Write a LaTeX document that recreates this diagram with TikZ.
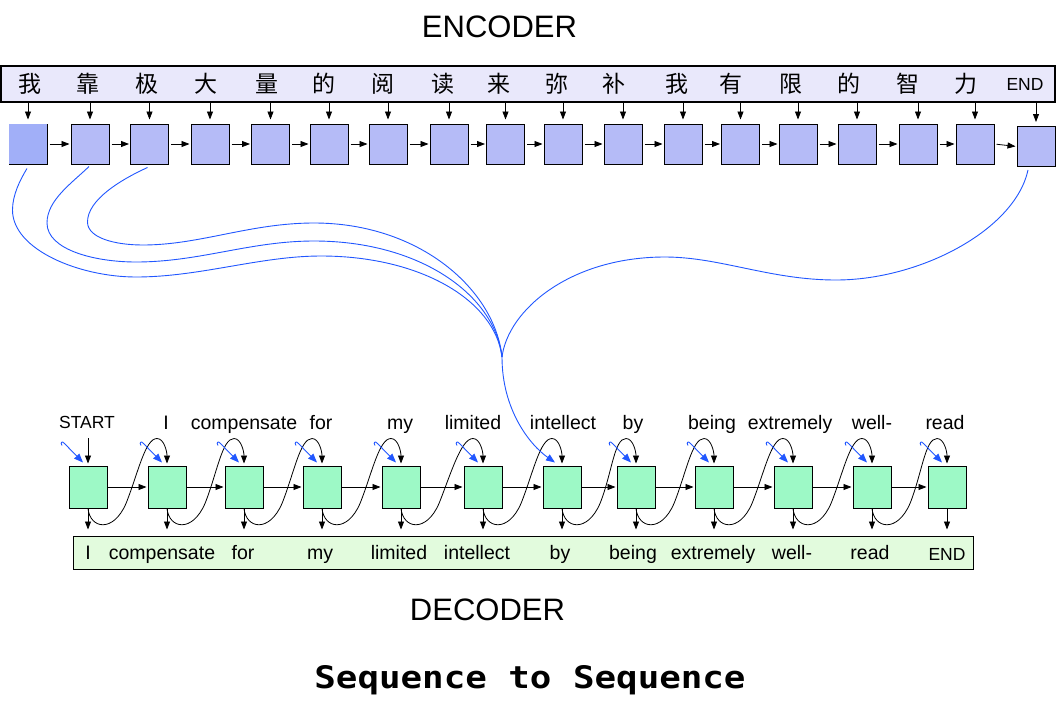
\documentclass[tikz,border=0pt]{standalone}
\usepackage{fontspec}
\setmainfont{Liberation Sans}
\newfontfamily\cjk{Noto Sans CJK SC}
\newfontfamily\titlefont{DejaVu Sans Mono}
\usetikzlibrary{arrows.meta,calc}
\definecolor{topfill}{HTML}{E9E8FB}
\definecolor{encfill}{HTML}{B5BBF7}
\definecolor{encfirst}{HTML}{A1AFF8}
\definecolor{decfill}{HTML}{9DF9C6}
\definecolor{botfill}{HTML}{E2FBDD}
\definecolor{myblue}{HTML}{2157FF}
\tikzset{
  enccell/.style={draw=black, line width=1pt, fill=encfill, minimum width=38pt, minimum height=40pt, inner sep=0pt},
  deccell/.style={draw=black, line width=1pt, fill=decfill, minimum width=38pt, minimum height=42pt, inner sep=0pt},
  arr/.style={-{Triangle[length=8pt,width=6pt]}, line width=0.8pt, draw=black},
  loopline/.style={-{Triangle[length=8pt,width=6pt]}, line width=0.8pt, draw=black},
  bluestub/.style={-{Triangle[length=9pt,width=7pt]}, line width=0.9pt, draw=myblue},
  blueline/.style={line width=0.9pt, draw=myblue},
  lab/.style={font=\fontsize{19.5}{20}\selectfont, anchor=base, inner sep=0pt},
  smalllab/.style={font=\fontsize{17.5}{18}\selectfont, anchor=base, inner sep=0pt},
  cjkchar/.style={font=\cjk\fontsize{23}{23}\selectfont, anchor=base, inner sep=0pt},
  heading/.style={font=\fontsize{31}{31}\selectfont, anchor=base, inner sep=0pt}
}
\begin{document}
\begin{tikzpicture}[x=1pt,y=-1pt]
\fill[white] (0,0) rectangle (1059,723);
\useasboundingbox (0,0) rectangle (1059,723);

% headings
\node[heading] (enchead) at (499.5,37) {ENCODER};
\node[heading] (dechead) at (487.5,620) {DECODER};
\node[anchor=base, inner sep=0pt] (title) at (530,688) {\scalebox{1.155}[1]{\titlefont\bfseries\fontsize{31}{31}\selectfont Sequence to Sequence}};

% encoder input box
\node[draw=black, line width=1.1pt, fill=topfill, minimum width=1054pt, minimum height=36pt, inner sep=0pt] (enctop) at (528,84) {};
\foreach \i/\x/\t in {1/30/我,2/88/靠,3/147/极,4/206/大,5/267/量,6/324/的,7/383/阅,8/443/读,9/499/来,10/557/弥,11/614/补,12/677/我,13/731/有,14/791/限,15/849/的,16/908/智,17/966/力}
  \node[cjkchar] (c\i) at (\x,92.5) {\t};
\node[smalllab] (c18) at (1025,90) {END};

% encoder cells
\foreach \i/\x in {1/28,2/90,3/149.5,4/210,5/270.5,6/329,7/388,8/449,9/505.5,10/563,11/623,12/683,13/740.5,14/798,15/857,16/918,17/975}
  \node[enccell] (e\i) at (\x,144) {};
\fill[encfirst] ($(e1.south west)+(0.5,-0.5)$) rectangle ($(e1.north east)+(-0.5,0.5)$);
\node[enccell] (e18) at (1036,146.5) {};

\foreach \i in {1,...,18}
  \draw[arr, shorten >=4pt] (e\i.north |- enctop.south) -- (e\i.north);
\foreach \i/\j in {1/2,2/3,3/4,4/5,5/6,6/7,7/8,8/9,9/10,10/11,11/12,12/13,13/14,14/15,15/16,16/17,17/18}
  \draw[arr, shorten <=2pt, shorten >=1pt] (e\i.east) -- (e\j.west);

% decoder cells
\foreach \i/\x in {1/88,2/167,3/244,4/322,5/401,6/483,7/562,8/636,9/714,10/793,11/872,12/947}
  \node[deccell] (d\i) at (\x,487) {};

% decoder top labels
\node[smalllab] (t1) at (87,428) {START};
\foreach \i/\x/\t in {2/166/I,3/244/compensate,4/321/for,5/400/my,6/473/limited,7/563/intellect,8/633/by,9/712/being,10/790/extremely,11/872/well-,12/945/read}
  \node[lab] (t\i) at (\x,429.5) {\t};

% decoder output box
\node[draw=black, line width=1pt, fill=botfill, minimum width=900pt, minimum height=33pt, inner sep=0pt] (decbot) at (523,552.5) {};
\foreach \i/\x/\t in {1/88/I,2/162/compensate,3/243/for,4/320/my,5/399/limited,6/477/intellect,7/560/by,8/633/being,9/713/extremely,10/792/well-,11/870/read}
  \node[lab] (b\i) at (\x,559) {\t};
\node[smalllab] (b12) at (947,560) {END};

% arrows in decoder
\draw[arr, shorten <=10pt, shorten >=2pt] (d1.north |- t1.south) -- (d1.north);
\foreach \i in {1,...,12}
  \draw[arr, shorten >=6pt] (d\i.south) -- (d\i.south |- decbot.north);
\foreach \i/\j in {1/2,2/3,3/4,4/5,5/6,6/7,7/8,8/9,9/10,10/11,11/12}{
  \draw[arr, shorten >=1pt] (d\i.east) -- (d\j.west);
  \draw[loopline] (d\i.south)
     .. controls ($(d\i.south)+(2,20)$) and ($(d\i.south)+(25,25)$) .. ($(d\i.south)+(38,-5)$)
     .. controls ($(d\i.south)+(50,-35)$) and ($(d\j.north)+(-22,-27)$) .. ($(d\j.north)+(-10,-27)$)
     .. controls ($(d\j.north)+(-3,-27)$) and ($(d\j.north)+(0,-14)$) .. ($(d\j.north)+(0,-2)$);
}
% blue stubs
\foreach \i in {1,2,3,4,5,6,8,9,10,11,12}
  \draw[bluestub] ($(d\i.north)+(-26,-20)$)
     .. controls ($(d\i.north)+(-28,-23)$) and ($(d\i.north)+(-26,-25)$) .. ($(d\i.north)+(-23.5,-22)$)
     -- ($(d\i.north)+(-5,-3)$);

% long blue attention curves
\coordinate (J) at (502,357);
\draw[blueline] ($(e1.south)+(-1,4)$) .. controls (20,180) and (12.5,195) .. (12.5,210)
   .. controls (12.5,250) and (80,277) .. (136,277)
   .. controls (200,277) and (260,256) .. (321,256)
   .. controls (420,256) and (495,300) .. (J);
\draw[blueline] ($(e2.south)+(-1,2)$) .. controls (72,183) and (47,200) .. (47,223)
   .. controls (47,250) and (95,262) .. (136,262)
   .. controls (200,262) and (250,241) .. (314,241)
   .. controls (420,241) and (495,295) .. (J);
\draw[blueline] ($(e3.south)+(-2,3)$) .. controls (120,180) and (87.5,200) .. (87.5,222)
   .. controls (87.5,238) and (115,245) .. (143,245)
   .. controls (200,245) and (250,223) .. (314,223)
   .. controls (420,223) and (495,290) .. (J);
\draw[blueline] ($(e18.south)+(-8,3)$) .. controls (1015,230) and (920,280) .. (836,280)
   .. controls (770,280) and (720,257) .. (665,257)
   .. controls (570,257) and (508,310) .. (J);
\draw[blueline, -{Triangle[length=9pt,width=7pt]}] (J) .. controls (502,410) and (530,445) .. ($(d7.north)+(-7,-3)$);
\end{tikzpicture}
\end{document}
